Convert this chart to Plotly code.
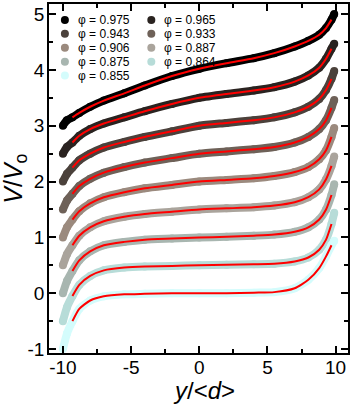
import plotly.graph_objects as go

# positions along the channel, y/<d>
x_pos = [-10, -9.7, -9.3, -8.8, -8, -7, -5.5, -4, -2, 0, 2, 4, 5.5, 7, 8, 8.8, 9.3, 9.7, 9.9]

# V/V0 (each series shifted by 0.5 in the original figure)
v_975 = [3.0, 3.1, 3.15, 3.23, 3.34, 3.45, 3.58, 3.72, 3.89, 4.02, 4.12, 4.21, 4.3, 4.42, 4.52, 4.63, 4.75, 4.9, 5.0]
v_965 = [2.5, 2.62, 2.7, 2.82, 2.94, 3.04, 3.15, 3.26, 3.39, 3.5, 3.57, 3.63, 3.69, 3.79, 3.9, 4.04, 4.2, 4.38, 4.47]
v_943 = [2.0, 2.14, 2.25, 2.38, 2.5, 2.61, 2.71, 2.8, 2.9, 3.0, 3.05, 3.1, 3.15, 3.24, 3.34, 3.48, 3.64, 3.84, 3.98]
v_933 = [1.5, 1.66, 1.78, 1.92, 2.05, 2.16, 2.26, 2.34, 2.42, 2.5, 2.54, 2.58, 2.62, 2.7, 2.8, 2.94, 3.1, 3.32, 3.46]
v_906 = [1.0, 1.18, 1.32, 1.47, 1.61, 1.72, 1.81, 1.88, 1.94, 2.0, 2.03, 2.06, 2.1, 2.17, 2.26, 2.4, 2.56, 2.8, 2.96]
v_887 = [0.5, 0.7, 0.86, 1.03, 1.18, 1.29, 1.37, 1.42, 1.46, 1.5, 1.52, 1.54, 1.57, 1.63, 1.72, 1.86, 2.04, 2.28, 2.45]
v_875 = [0.0, 0.22, 0.4, 0.59, 0.75, 0.86, 0.92, 0.96, 0.98, 1.0, 1.01, 1.03, 1.05, 1.1, 1.18, 1.32, 1.5, 1.76, 1.95]
v_864 = [-0.5, -0.25, -0.05, 0.15, 0.31, 0.41, 0.46, 0.48, 0.49, 0.5, 0.51, 0.52, 0.53, 0.57, 0.64, 0.78, 0.96, 1.24, 1.44]
v_855 = [-1.0, -0.72, -0.5, -0.28, -0.13, -0.055, -0.02, -0.01, 0.0, 0.0, 0.0, 0.01, 0.02, 0.09, 0.24, 0.45, 0.66, 0.86, 0.94]

phi = ['0.975', '0.965', '0.943', '0.933', '0.906', '0.887', '0.875', '0.864', '0.855']
series = [v_975, v_965, v_943, v_933, v_906, v_887, v_875, v_864, v_855]
colors = ['#000000', '#2a2320', '#4b413b', '#6e6158', '#9b8a7e', '#aaa49c', '#a8b6b0', '#b7dcd8', '#d4fcfc']

fig = go.Figure()

for name, vals, col in zip(phi, series, colors):
    fig.add_trace(go.Scatter(x=x_pos, y=vals, mode='lines+markers', name='\u03c6 = ' + name,
                             line=dict(color=col, width=8, shape='spline', smoothing=0.6),
                             marker=dict(color=col, size=8), showlegend=False))

# fitted curves (red) over the inner part of each series
for vals in series:
    fig.add_trace(go.Scatter(x=x_pos[2:-1], y=vals[2:-1], mode='lines',
                             line=dict(color='#ff0000', width=2, shape='spline', smoothing=0.6),
                             showlegend=False, hoverinfo='skip'))

# hand made two-column legend
ann = []
shapes = []
col_x = [65, 152]
for i, (name, col) in enumerate(zip(phi, colors)):
    cx = col_x[i % 2]
    cy = 18 + 14 * (i // 2)
    px = (cx - 49) / 301
    py = (353 - cy) / 351
    shapes.append(dict(type='circle', xref='paper', yref='paper', xsizemode='pixel', ysizemode='pixel',
                       xanchor=px, yanchor=py, x0=-4, x1=4, y0=-4, y1=4,
                       fillcolor=col, line=dict(width=0)))
    ann.append(dict(text='\u03c6 = ' + name, x=(cx + 11 - 49) / 301, y=py, xref='paper', yref='paper',
                    xanchor='left', yanchor='middle', showarrow=False,
                    font=dict(size=12, color='black', family='Liberation Sans')))

ann.append(dict(text='<i>V</i>/<i>V</i><sub>o</sub>', x=(14 - 49) / 301, y=0.5, xref='paper', yref='paper',
                textangle=-90, showarrow=False, xanchor='center', yanchor='middle',
                font=dict(size=25, family='Liberation Sans', color='black')))
ann.append(dict(text='<i>y</i>/<<i>d</i>>', x=(205 - 49) / 301, y=(353 - 391) / 351, xref='paper', yref='paper',
                showarrow=False, xanchor='center', yanchor='middle',
                font=dict(size=24, family='Liberation Sans', color='black')))

axis_style = dict(showline=True, linecolor='black', linewidth=1.5, mirror='ticks', ticks='inside',
                  ticklen=7, tickwidth=1.5, tickcolor='black', showgrid=False, zeroline=False,
                  ticklabeloverflow='allow',
                  tickfont=dict(size=19, family='Liberation Sans', color='black'))

fig.update_layout(
    width=352, height=409,
    margin=dict(l=49, r=2, t=2, b=56),
    plot_bgcolor='white', paper_bgcolor='white',
    annotations=ann, shapes=shapes,
    xaxis=dict(range=[-11.02, 10.91], tickvals=[-10, -5, 0, 5, 10], ticktext=['-10', '-5', '0', '5', '10'],
               minor=dict(dtick=2.5, ticks='inside', ticklen=4, tickwidth=1.5, tickcolor='black'),
               ticklabelstandoff=-4, **axis_style),
    yaxis=dict(range=[-1.07, 5.18], tickvals=[-1, 0, 1, 2, 3, 4, 5], ticktext=['-1', '0', '1', '2', '3', '4', '5'],
               minor=dict(dtick=0.5, ticks='inside', ticklen=4, tickwidth=1.5, tickcolor='black'),
               ticklabelstandoff=-1, **axis_style),
)

# drop the default page margin so the figure sits at the window corner
fig.write_html("out.html", config={'displayModeBar': False},
               post_script="document.body.style.margin='0';")
